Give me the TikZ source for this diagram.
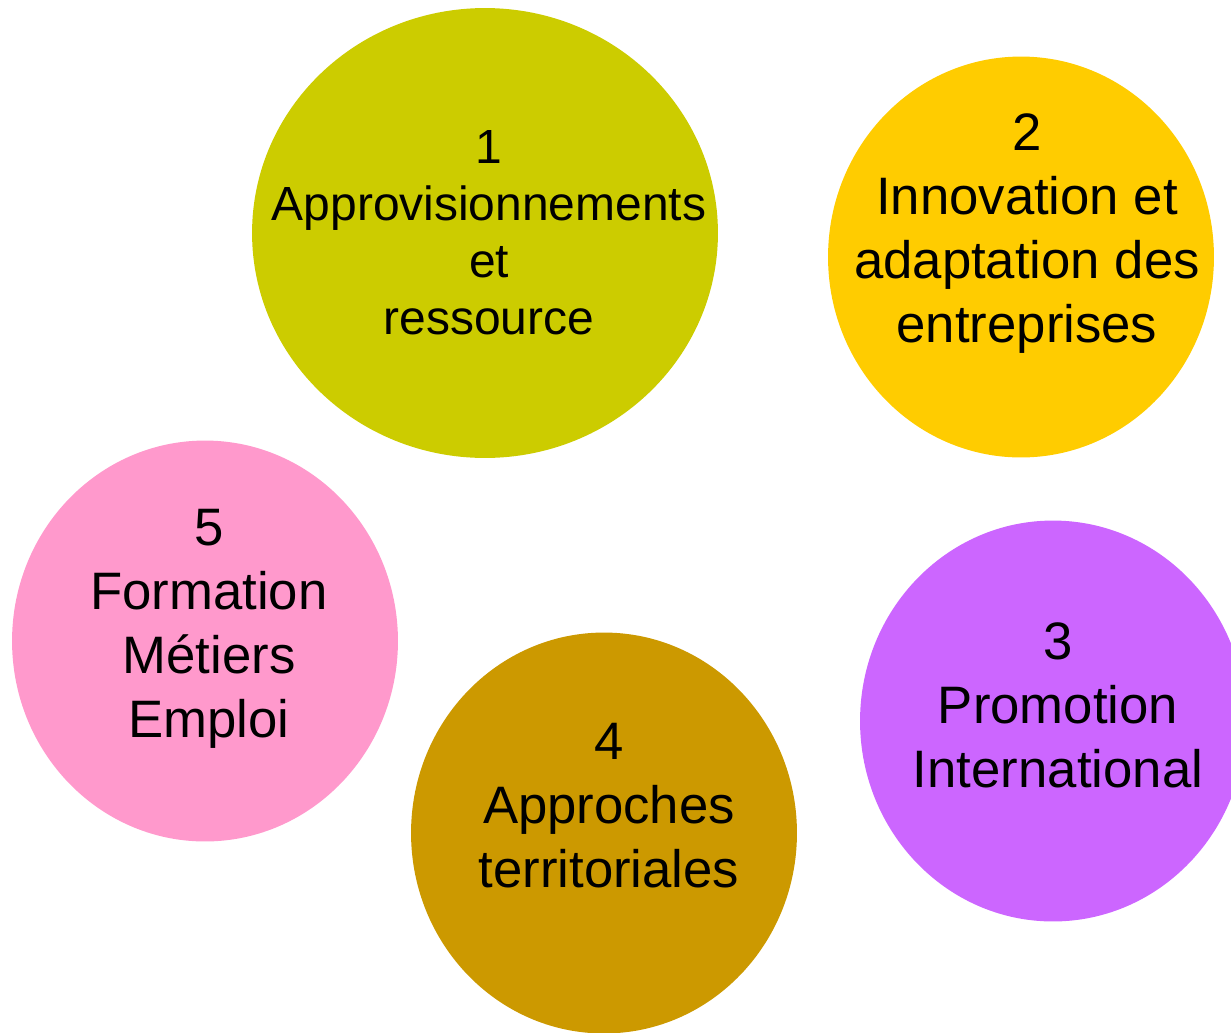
\documentclass[tikz,border=0pt]{standalone}
\usepackage{fontspec}
\setmainfont{Liberation Sans}
\usetikzlibrary{shapes.geometric}
\definecolor{olive1}{HTML}{CCCC00}
\definecolor{gold2}{HTML}{FFCC00}
\definecolor{violet3}{HTML}{CC66FF}
\definecolor{ochre4}{HTML}{CC9900}
\definecolor{pink5}{HTML}{FF99CC}
\begin{document}
\begin{tikzpicture}[x=0.02cm,y=-0.02cm,
	blob/.style={ellipse,draw=none,inner sep=0pt,outer sep=0pt,minimum width=7.72cm,minimum height=8.02cm},
	label/.style={align=center,anchor=base,inner sep=0pt,font=\fontsize{30}{36.3}\selectfont}]
	\useasboundingbox (0,0) rectangle (1231,1032);
	\node [blob,fill=olive1,minimum width=9.32cm,minimum height=9cm] (e1) at (485,233) {};
	\node [blob,fill=gold2] (e2) at (1021,257) {};
	\node [blob,fill=violet3] (e3) at (1053,721) {};
	\node [blob,fill=ochre4] (e4) at (604,833) {};
	\node [blob,fill=pink5] (e5) at (205,641) {};
	% labels sit on the baseline of their last line
	\node [label,font=\fontsize{27.3}{32.4}\selectfont] (t1) at (489,334) {1\\Approvisionnements\\et\\ressource};
	\node [label] (t2) at (1027,342) {2\\Innovation et\\adaptation des\\entreprises};
	\node [label] (t3) at (1058,787) {3\\Promotion\\International};
	\node [label] (t4) at (609,887) {4\\Approches\\territoriales};
	\node [label] (t5) at (209,737) {5\\Formation\\Métiers\\Emploi};
\end{tikzpicture}
\end{document}
